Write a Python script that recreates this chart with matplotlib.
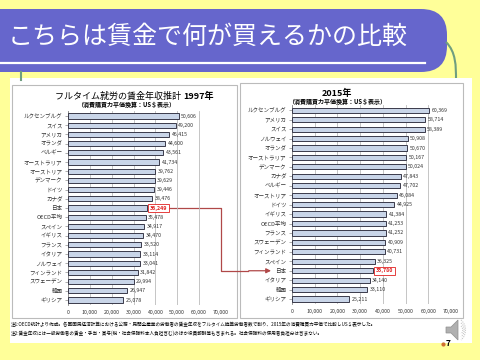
import matplotlib
matplotlib.use('Agg')
import matplotlib.pyplot as plt
from matplotlib.patches import Rectangle, FancyBboxPatch, Polygon, PathPatch
from matplotlib.path import Path

plt.rcParams['font.family'] = ['Noto Sans CJK JP', 'DejaVu Sans']

# 1997年 データ
countries_1997 = ['ルクセンブルグ', 'スイス', 'アメリカ', 'オランダ', 'ベルギー', 'オーストラリア',
                  'オーストリア', 'デンマーク', 'ドイツ', 'カナダ', '日本', 'OECD平均', 'スペイン',
                  'イギリス', 'フランス', 'イタリア', 'ノルウェイ', 'フィンランド', 'スウェーデン',
                  '韓国', 'ギリシア']
wages_1997 = [50606, 49200, 46415, 44600, 43561, 41734, 39762, 39629, 39446, 38476, 36249,
              35478, 34917, 34470, 33520, 33114, 33041, 31842, 29994, 26947, 25078]

# 2015年 データ
countries_2015 = ['ルクセンブルグ', 'アメリカ', 'スイス', 'ノルウェイ', 'オランダ', 'オーストラリア',
                  'デンマーク', 'カナダ', 'ベルギー', 'オーストリア', 'ドイツ', 'イギリス', 'OECD平均',
                  'フランス', 'スウェーデン', 'フィンランド', 'スペイン', '日本', 'イタリア', '韓国',
                  'ギリシア']
wages_2015 = [60369, 58714, 58389, 50908, 50670, 50167, 50024, 47843, 47702, 46084, 44925,
              41384, 41253, 41252, 40909, 40731, 36325, 35780, 34140, 33110, 25211]

x_ticks = [0, 10000, 20000, 30000, 40000, 50000, 60000, 70000]

W, H = 480, 360
fig = plt.figure(figsize=(4.8, 3.6), dpi=100)
fig.patch.set_facecolor('#FFFF99')

def px_axes(x0, y0, x1, y1, **kw):
    # ピクセル座標 (左上原点) で軸を配置
    return fig.add_axes([x0 / W, 1 - y1 / H, (x1 - x0) / W, (y1 - y0) / H], **kw)

# 背景用の軸
bg = px_axes(0, 0, W, H, zorder=0)
bg.set_xlim(0, W)
bg.set_ylim(H, 0)
bg.axis('off')

# タイトルバナー
bg.add_patch(FancyBboxPatch((-40, 9), 487, 63, boxstyle='round,pad=0,rounding_size=26',
                            fc='#6666CC', ec='none'))
bg.plot([0, 425], [63, 63], color='white', lw=1.6)
bg.text(8, 37, 'こちらは賃金で何が買えるかの比較', color='white', fontsize=18,
        va='center', ha='left')

# 緑の線
green = '#6F9E80'
bg.plot([21, 21], [72, 80], color=green, lw=1.5)
curve = Path([(446, 42), (456, 52), (456, 66), (456, 80)],
             [Path.MOVETO, Path.CURVE4, Path.CURVE4, Path.CURVE4])
bg.add_patch(PathPatch(curve, fc='none', ec=green, lw=1.5))

# 白いパネルとグラフ枠
bg.add_patch(Rectangle((10, 78), 462, 265, fc='white', ec='none'))
bg.add_patch(Rectangle((12, 85), 225, 233, fc='white', ec='#BBBBBB', lw=0.8))
bg.add_patch(Rectangle((240, 83), 223, 235, fc='white', ec='#BBBBBB', lw=0.8))

# 注記
bg.text(11, 324, '注1:OECD統計より作成。各国国民経済計算における公務・民間全産業の労働者の賃金年収をフルタイム換算労働者数で割り、'
        '2015年の消費購買力平価で比較しUS＄表示した。', fontsize=3.3, va='center', ha='left')
bg.text(11, 333, '注2:賃金年収には一般労働者の賃金・手当・賞与(税・社会保険料本人負担含む)のほか役員報酬等も含まれる。'
        '社会保険料の使用者負担分は含まない。', fontsize=3.3, va='center', ha='left')

# ページ番号とスピーカー
bg.plot([443], [344], marker='o', ms=2, color='#D07030')
bg.text(446, 343, '7', fontsize=6, fontweight='bold', va='center', ha='left')
bg.add_patch(Polygon([(446, 327), (451, 327), (458, 320), (458, 340), (451, 333), (446, 333)],
                     fc='#B0B0B0', ec='#909090', lw=0.5))
for r in (4, 7, 10):
    arc = Path([(461, 330 - r), (461 + r * 0.6, 330 - r * 0.5), (461 + r * 0.6, 330 + r * 0.5), (461, 330 + r)],
               [Path.MOVETO, Path.CURVE4, Path.CURVE4, Path.CURVE4])
    bg.add_patch(PathPatch(arc, fc='none', ec='#C8C8C8', lw=0.8, ls=(0, (1, 1))))


def draw_chart(ax, names, values):
    n = len(names)
    ypos = list(range(n))
    ax.barh(ypos, values, height=0.55, color='#C9D5E8', edgecolor='#3A3A4A', lw=0.7, zorder=3)
    ax.set_xlim(0, 70000)
    ax.set_ylim(n - 0.5, -0.5)
    ax.set_xticks(x_ticks)
    ax.set_xticklabels([f'{t:,}' for t in x_ticks], fontsize=3.8, color='#333333')
    ax.set_yticks(ypos)
    ax.set_yticklabels(names, fontsize=4, color='#333333')
    ax.tick_params(axis='x', length=0, pad=4)
    ax.tick_params(axis='y', length=2, width=0.5, pad=2, color='#888888')
    ax.grid(axis='x', color='#BBBBBB', lw=0.6, zorder=0)
    for s in ('top', 'right', 'bottom'):
        ax.spines[s].set_visible(False)
    ax.spines['left'].set_color('#888888')
    ax.spines['left'].set_linewidth(0.6)
    ax.set_facecolor('none')
    for i, (name, v) in enumerate(zip(names, values)):
        if name == '日本':
            ax.text(v + 1200, i, f'{v:,}', fontsize=3.8, color='#E02020', va='center', ha='left',
                    fontweight='bold',
                    bbox=dict(boxstyle='square,pad=0.3', fc='white', ec='#E02020', lw=0.6))
        else:
            ax.text(v + 1200, i, f'{v:,}', fontsize=3.8, color='#333333', va='center', ha='left')


ax1 = px_axes(68, 111.4, 221, 304.6, zorder=2)
draw_chart(ax1, countries_1997, wages_1997)
bg.text(183, 96, 'フルタイム就労の賃金年収推計 ', fontsize=6.5, ha='right', va='center')
bg.text(183, 96, '1997年', fontsize=6.5, fontweight='bold', ha='left', va='center')
bg.text(126, 105, '（消費購買力平価換算：US＄表示）', fontsize=4.3, fontweight='bold',
        ha='center', va='center')

ax2 = px_axes(292, 105.5, 451, 303.8, zorder=2)
draw_chart(ax2, countries_2015, wages_2015)
bg.text(337, 93, '2015年', fontsize=6.5, fontweight='bold', ha='center', va='center')
bg.text(337, 101.5, '（消費購買力平価換算：US＄表示）', fontsize=4.3, fontweight='bold',
        ha='center', va='center')

# 日本同士を結ぶ矢印 (データ位置から計算)
def to_bg(ax, x, y):
    fx, fy = ax.transData.transform((x, y))
    return bg.transData.inverted().transform((fx, fy))

j1 = countries_1997.index('日本')
j2 = countries_2015.index('日本')
sx, sy = to_bg(ax1, wages_1997[j1] + 9500, j1)
vx, _ = to_bg(ax1, 70000, j1)
_, ey = to_bg(ax2, 0, j2)
lx, _ = to_bg(ax2, -8000, j2)
arrow_c = '#B04848'
bg.plot([sx, vx, vx, 248], [sy, sy, ey, ey], color=arrow_c, lw=0.9, zorder=5)
bg.annotate('', xy=(lx, ey), xytext=(246, ey),
            arrowprops=dict(arrowstyle='-|>', color=arrow_c, lw=0.9, mutation_scale=7), zorder=5)

fig.savefig('out.png', dpi=100, facecolor=fig.get_facecolor())
